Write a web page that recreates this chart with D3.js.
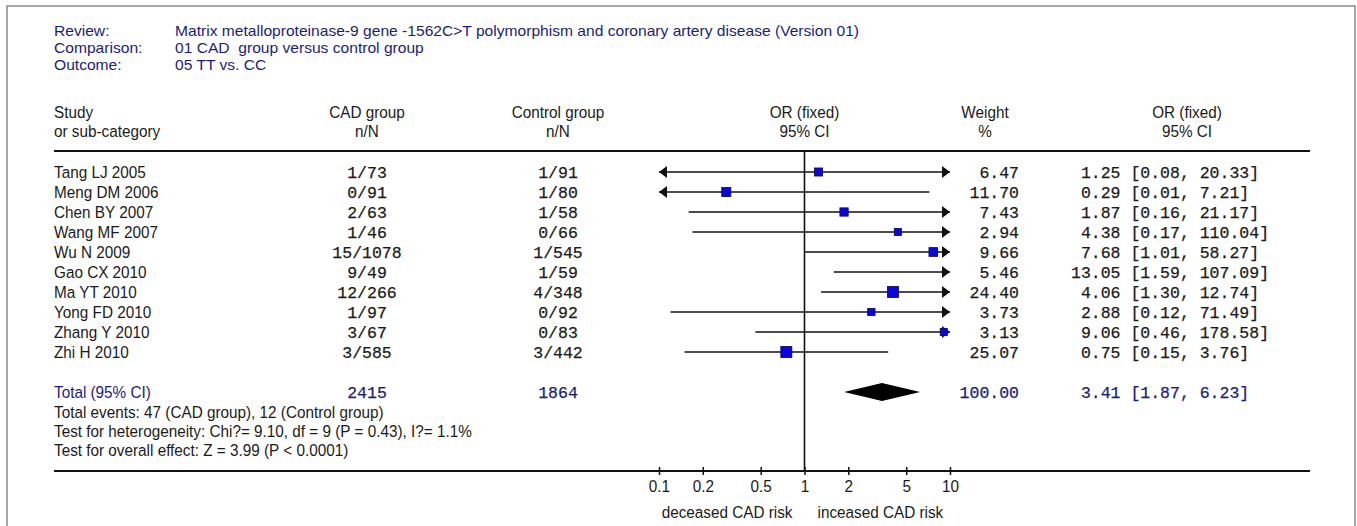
<!DOCTYPE html>
<html>
<head>
<meta charset="utf-8">
<script src="https://cdn.jsdelivr.net/npm/d3@7"></script>
<style>
  html, body { margin: 0; padding: 0; background: #fff; }
  svg { display: block; }
  .sans { font-family: "Liberation Sans", Arial, sans-serif; font-size: 17px; white-space: pre; }
  .sans.info { font-size: 15px; }
  .mono { font-family: "Liberation Mono", "Courier New", monospace; font-size: 16.5px; white-space: pre; stroke-width: 0.25px; }
  .navy { fill: #1c1c78; }
  .mono.navy { stroke: #1c1c78; }
  .ink { fill: #1a1a1a; }
  .mono.ink { stroke: #1a1a1a; }
</style>
</head>
<body>
<svg id="chart" width="1357" height="526"></svg>
<script>
// header info
const infoLabels = ['Review:', 'Comparison:', 'Outcome:'];
const infoValues = [
  'Matrix metalloproteinase-9 gene -1562C>T polymorphism and coronary artery disease (Version 01)',
  '01 CAD  group versus control group',
  '05 TT vs. CC',
];

// studies
const studies = ['Tang LJ 2005', 'Meng DM 2006', 'Chen BY 2007', 'Wang MF 2007', 'Wu N 2009',
  'Gao CX 2010', 'Ma YT 2010', 'Yong FD 2010', 'Zhang Y 2010', 'Zhi H 2010'];
const cadEvents = [1, 0, 2, 1, 15, 9, 12, 1, 3, 3];
const cadTotal = [73, 91, 63, 46, 1078, 49, 266, 97, 67, 585];
const ctrlEvents = [1, 1, 1, 0, 1, 1, 4, 0, 0, 3];
const ctrlTotal = [91, 80, 58, 66, 545, 59, 348, 92, 83, 442];
const weights = [6.47, 11.70, 7.43, 2.94, 9.66, 5.46, 24.40, 3.73, 3.13, 25.07];
const oddsRatio = [1.25, 0.29, 1.87, 4.38, 7.68, 13.05, 4.06, 2.88, 9.06, 0.75];
const ciLow = [0.08, 0.01, 0.16, 0.17, 1.01, 1.59, 1.30, 0.12, 0.46, 0.15];
const ciHigh = [20.33, 7.21, 21.17, 110.04, 58.27, 107.09, 12.74, 71.49, 178.58, 3.76];

// pooled
const totalCad = 2415;
const totalCtrl = 1864;
const totalWeight = 100.00;
const totalOR = 3.41;
const totalLow = 1.87;
const totalHigh = 6.23;
const footLines = [
  'Total events: 47 (CAD group), 12 (Control group)',
  'Test for heterogeneity: Chi?= 9.10, df = 9 (P = 0.43), I?= 1.1%',
  'Test for overall effect: Z = 3.99 (P < 0.0001)',
];

const axisTicks = [0.1, 0.2, 0.5, 1, 2, 5, 10];
const sideLabels = ['deceased CAD risk', 'inceased CAD risk'];

const svg = d3.select('#chart');

const x = d3.scaleLog().domain([0.1, 10]).range([659, 950]);
const y = d3.scaleLinear().domain([0, studies.length - 1]).range([172, 352]);
const box = d3.scaleSqrt().domain([0, 25]).range([5, 11]);

const col = { left: 54, info: 175, cad: 367, ctrl: 558, weight: 1019, weightHead: 985, orText: 1071, orHead: 1187, right: 1310 };
const yTotal = 392;
const yAxis = 471;
const squeeze = 0.9; // original text is drawn narrow and tall

function txt(s, xx, yy, cls, anchor, sx) {
  const t = svg.append('text')
      .attr('class', cls)
      .attr('dy', '0.35em')
      .attr('text-anchor', anchor || 'start')
      .text(s);
  if (cls.includes('sans')) {
    t.attr('transform', `translate(${xx},${yy}) scale(${sx || squeeze},1)`);
  } else {
    t.attr('x', xx).attr('y', yy);
  }
  return t;
}
const fmt = d3.format('.2f');
const orLabel = (o, l, h) => `${fmt(o).padStart(5)} [${fmt(l)}, ${fmt(h)}]`;

// frame
svg.append('path')
    .attr('d', `M7,526V6H1355V526`)
    .attr('fill', 'none')
    .attr('stroke', '#8a8a8a')
    .attr('stroke-width', 1.5);

// review info
infoLabels.forEach((d, i) => {
  txt(d, col.left, 31 + i * 17, 'sans info navy', 'start', 1.04);
  txt(infoValues[i], col.info, 31 + i * 17, 'sans info navy', 'start', 1.04);
});

// column headers
txt('Study', col.left, 112, 'sans ink');
txt('or sub-category', col.left, 131, 'sans ink');
[['CAD group', 'n/N', col.cad], ['Control group', 'n/N', col.ctrl],
 ['OR (fixed)', '95% CI', x(1)], ['Weight', '%', col.weightHead], ['OR (fixed)', '95% CI', col.orHead]]
  .forEach(([a, b, cx]) => {
    txt(a, cx, 112, 'sans ink', 'middle');
    txt(b, cx, 131, 'sans ink', 'middle');
  });

svg.append('line')
    .attr('x1', col.left).attr('x2', col.right)
    .attr('y1', 151).attr('y2', 151)
    .attr('stroke', '#111').attr('stroke-width', 2);

// null line
svg.append('line')
    .attr('x1', x(1)).attr('x2', x(1))
    .attr('y1', 151).attr('y2', yAxis)
    .attr('stroke', '#111').attr('stroke-width', 1.6);

// study rows
studies.forEach((s, i) => {
  const yy = y(i);
  txt(s, col.left, yy, 'sans ink');
  txt(`${cadEvents[i]}/${cadTotal[i]}`, col.cad, yy, 'mono ink', 'middle');
  txt(`${ctrlEvents[i]}/${ctrlTotal[i]}`, col.ctrl, yy, 'mono ink', 'middle');
  txt(fmt(weights[i]), col.weight, yy, 'mono ink', 'end');
  txt(orLabel(oddsRatio[i], ciLow[i], ciHigh[i]), col.orText, yy, 'mono ink');

  const [d0, d1] = x.domain();
  const x0 = x(Math.max(ciLow[i], d0));
  const x1 = x(Math.min(ciHigh[i], d1));
  svg.append('line')
      .attr('x1', x0).attr('x2', x1)
      .attr('y1', yy).attr('y2', yy)
      .attr('stroke', '#111').attr('stroke-width', 1.7);
  if (ciLow[i] < d0) {
    svg.append('path')
        .attr('d', `M${x0},${yy}l8,-6v12z`)
        .attr('fill', '#111');
  }
  if (ciHigh[i] > d1) {
    svg.append('path')
        .attr('d', `M${x1},${yy}l-8,-6v12z`)
        .attr('fill', '#111');
  }
  if (oddsRatio[i] >= d0 && oddsRatio[i] <= d1) {
    const s2 = box(weights[i]);
    svg.append('rect')
        .attr('x', x(oddsRatio[i]) - s2 / 2)
        .attr('y', yy - s2 / 2)
        .attr('width', s2).attr('height', s2)
        .attr('fill', '#0808dc')
        .attr('stroke', '#06065a').attr('stroke-width', 0.8);
  }
});

// pooled row
txt('Total (95% CI)', col.left, yTotal, 'sans navy');
txt(String(totalCad), col.cad, yTotal, 'mono navy', 'middle');
txt(String(totalCtrl), col.ctrl, yTotal, 'mono navy', 'middle');
txt(fmt(totalWeight), col.weight, yTotal, 'mono navy', 'end');
txt(orLabel(totalOR, totalLow, totalHigh), col.orText, yTotal, 'mono navy');
svg.append('path')
    .attr('d', `M${x(totalLow)},${yTotal}L${x(totalOR)},${yTotal - 9}L${x(totalHigh)},${yTotal}L${x(totalOR)},${yTotal + 9}Z`)
    .attr('fill', '#000');

footLines.forEach((d, i) => txt(d, col.left, 412 + i * 19, 'sans ink'));

// bottom rule / axis
svg.append('line')
    .attr('x1', col.left).attr('x2', col.right)
    .attr('y1', yAxis).attr('y2', yAxis)
    .attr('stroke', '#111').attr('stroke-width', 2);

const ax = svg.append('g')
    .attr('transform', `translate(0, ${yAxis})`)
    .call(d3.axisBottom(x).tickValues(axisTicks).tickFormat((d) => String(d)).tickSizeOuter(0));
ax.select('.domain').remove();
ax.selectAll('.tick line').attr('y1', -4).attr('y2', 4).attr('stroke', '#111').attr('stroke-width', 1.5);
ax.selectAll('.tick text')
    .attr('class', 'sans ink')
    .attr('y', null)
    .attr('transform', `translate(0,15) scale(${squeeze},1)`)
    .attr('dy', '0.35em')
    .attr('font-size', null)
    .attr('font-family', null);

txt(sideLabels[0], x(1) - 12, 512, 'sans ink', 'end');
txt(sideLabels[1], x(1) + 13, 512, 'sans ink', 'start');
</script>
</body>
</html>
